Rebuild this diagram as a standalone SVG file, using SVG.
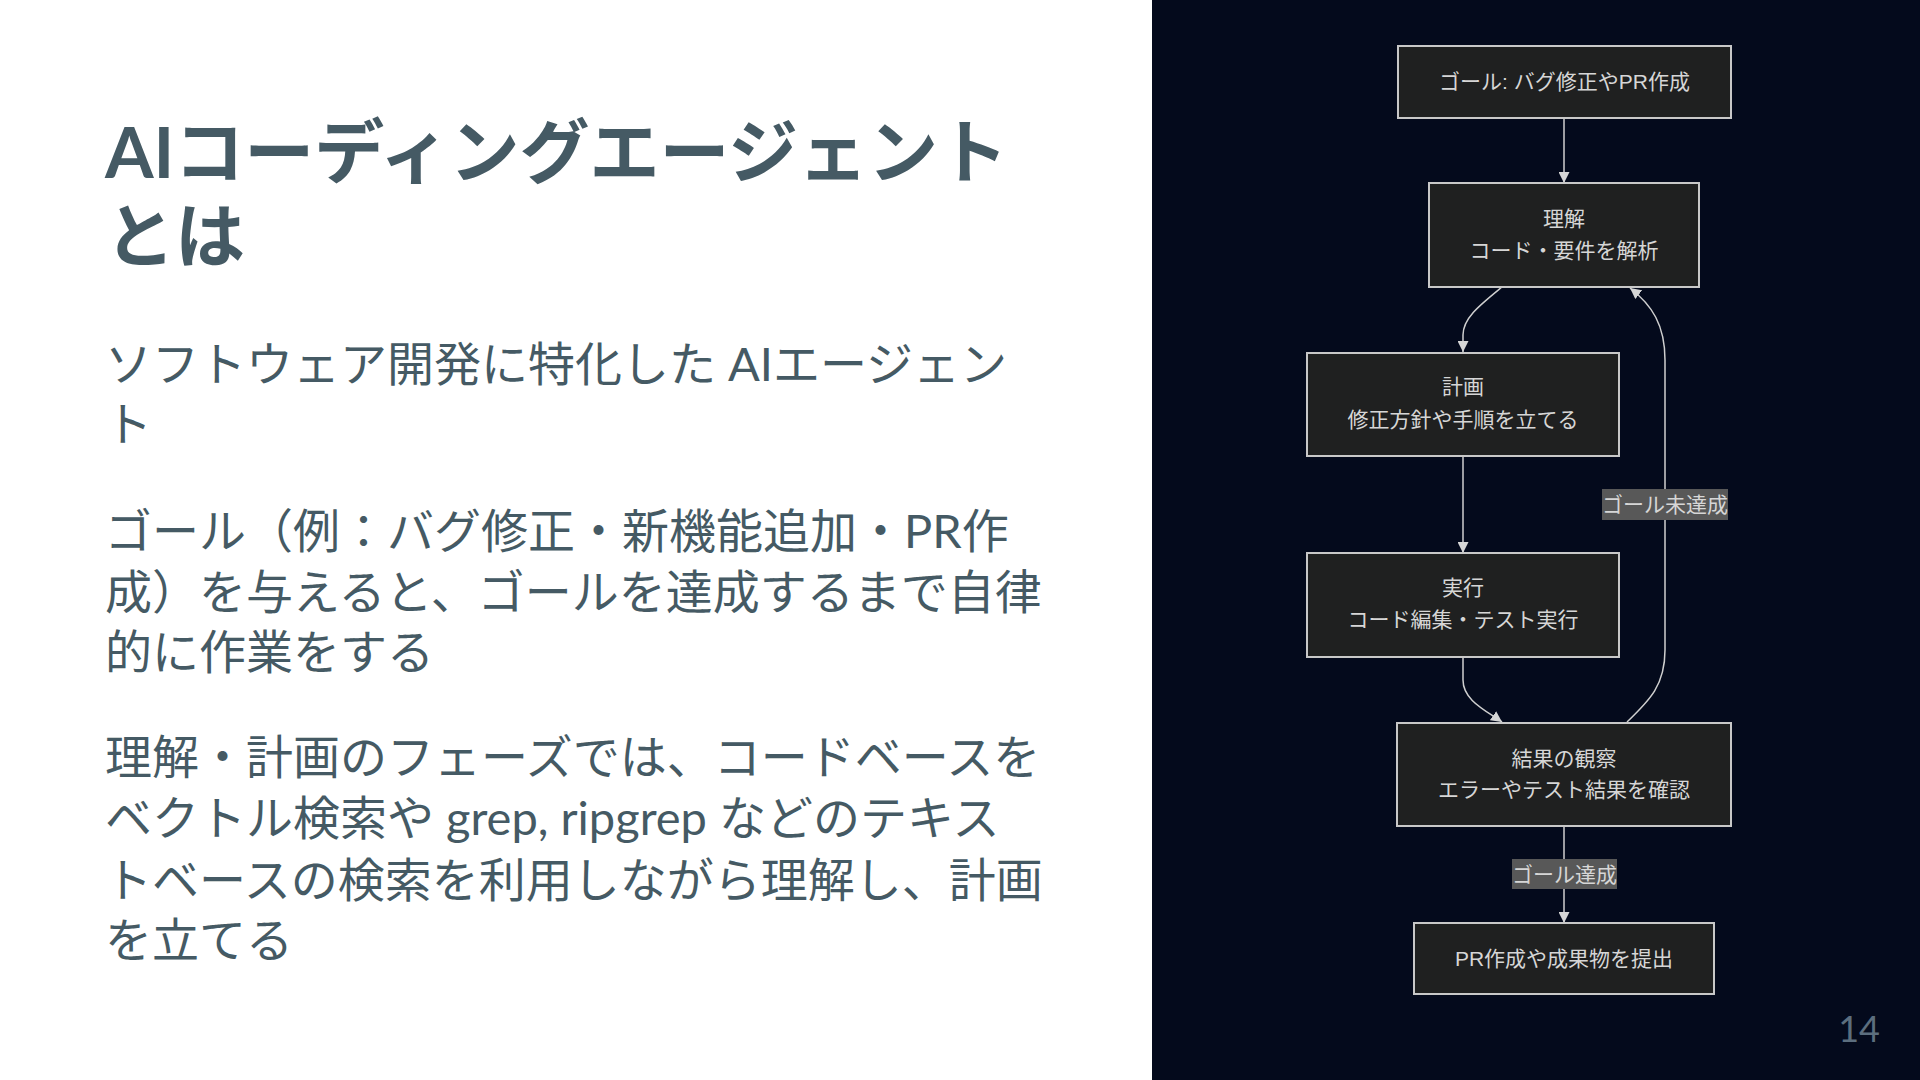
<svg xmlns="http://www.w3.org/2000/svg" width="1920" height="1080" viewBox="0 0 1920 1080">
<defs>
<style>
.title{font-family:"Lato","Noto Sans CJK JP",sans-serif;font-weight:700;font-size:70px;fill:#455a64}
.body{font-family:"Lato","Noto Sans CJK JP",sans-serif;font-weight:400;font-size:47px;fill:#455a64}
.box{fill:#1f2020;stroke:#c8c8c8;stroke-width:2}
.nt{font-family:"Liberation Sans","Noto Sans CJK JP",sans-serif;font-size:21px;fill:#d6d6d6;text-anchor:middle}
.edge{fill:none;stroke:#cfcfcf;stroke-width:1.5}
.lbl{fill:#585858}
.page{font-family:"Lato","Noto Sans CJK JP",sans-serif;font-size:36px;fill:#5c6e7e;text-anchor:end}
</style>
<marker id="arr" markerUnits="userSpaceOnUse" markerWidth="11" markerHeight="11" refX="10" refY="5" orient="auto" viewBox="0 0 10 10">
<path d="M0,0 L10,5 L0,10 z" fill="#d6d6d6"/>
</marker>
</defs>
<rect x="0" y="0" width="1920" height="1080" fill="#ffffff"/>
<rect x="1152" y="0" width="768" height="1080" fill="#040a1c"/>

<g id="left-text">
<text class="title" x="105" y="178">AIコーディングエージェント</text>
<text class="title" x="105" y="262">とは</text>
<text class="body" x="105" y="381">ソフトウェア開発に特化した AIエージェン</text>
<text class="body" x="105" y="441">ト</text>
<text class="body" x="105" y="548">ゴール（例：バグ修正・新機能追加・PR作</text>
<text class="body" x="105" y="609">成）を与えると、ゴールを達成するまで自律</text>
<text class="body" x="105" y="669">的に作業をする</text>
<text class="body" x="105" y="774">理解・計画のフェーズでは、コードベースを</text>
<text class="body" x="105" y="835">ベクトル検索や grep, ripgrep などのテキス</text>
<text class="body" x="105" y="897">トベースの検索を利用しながら理解し、計画</text>
<text class="body" x="105" y="957">を立てる</text>
</g>

<g id="connectors">
<path class="edge" d="M1564,118 L1564,183" marker-end="url(#arr)"/>
<path class="edge" d="M1502,287 C1480,305 1463,318 1463,335 L1463,352" marker-end="url(#arr)"/>
<path class="edge" d="M1463,457 L1463,553" marker-end="url(#arr)"/>
<path class="edge" d="M1463,657 L1463,680 C1463,700 1485,710 1502,722" marker-end="url(#arr)"/>
<path class="edge" d="M1627,722 C1650,700 1665,685 1665,650 L1665,360 C1665,325 1652,305 1630,288" marker-end="url(#arr)"/>
<path class="edge" d="M1564,826 L1564,923" marker-end="url(#arr)"/>
<g id="label-notdone">
<rect class="lbl" x="1602" y="489" width="126" height="31"/>
<text class="nt" x="1665" y="512">ゴール未達成</text>
</g>
<g id="label-done">
<rect class="lbl" x="1512" y="859" width="105" height="30"/>
<text class="nt" x="1564.5" y="881.5">ゴール達成</text>
</g>
</g>

<g id="node-goal">
<rect class="box" x="1398" y="46" width="333" height="72"/>
<text class="nt" x="1564.5" y="89">ゴール: バグ修正やPR作成</text>
</g>
<g id="node-understand">
<rect class="box" x="1429" y="183" width="270" height="104"/>
<text class="nt" x="1564" y="225.5">理解</text>
<text class="nt" x="1564" y="257.5">コード・要件を解析</text>
</g>
<g id="node-plan">
<rect class="box" x="1307" y="353" width="312" height="103"/>
<text class="nt" x="1463" y="394">計画</text>
<text class="nt" x="1463" y="427">修正方針や手順を立てる</text>
</g>
<g id="node-exec">
<rect class="box" x="1307" y="553" width="312" height="104"/>
<text class="nt" x="1463" y="595">実行</text>
<text class="nt" x="1463" y="627">コード編集・テスト実行</text>
</g>
<g id="node-observe">
<rect class="box" x="1397" y="723" width="334" height="103"/>
<text class="nt" x="1564" y="765.5">結果の観察</text>
<text class="nt" x="1564" y="797">エラーやテスト結果を確認</text>
</g>
<g id="node-pr">
<rect class="box" x="1414" y="923" width="300" height="71"/>
<text class="nt" x="1564" y="965.5">PR作成や成果物を提出</text>
</g>

<text class="page" x="1880" y="1042">14</text>
</svg>
